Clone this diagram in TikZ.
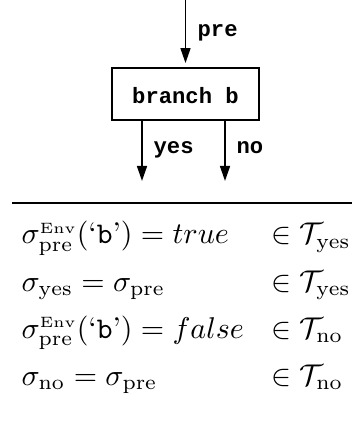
\documentclass[tikz,border=0pt]{standalone}
\usepackage{amsmath}
\usepackage{fontspec}
\newfontfamily\codefont{Liberation Mono}
\usetikzlibrary{arrows.meta}
\begin{document}
\begin{tikzpicture}[x=0.3333pt,y=-0.3333pt,
  code/.style={font=\codefont\bfseries\fontsize{7.4}{9}\selectfont, inner sep=0pt},
  flow/.style={line width=0.6pt,-{Triangle[length=5pt,width=3.3pt]}},
  stepbox/.style={draw,line width=0.6pt,inner sep=0pt,minimum width=49pt,
     text height=12pt,text depth=5.33pt},
  formula/.style={anchor=base west,inner sep=0pt}]
\useasboundingbox (0,0) rectangle (352,421);
% flow part
\node[stepbox,code] (box) at (185.5,67) [anchor=north] {branch b};
\coordinate (top) at (185.5,0);
\coordinate (yesend) at (142,181);
\coordinate (noend) at (225,181);
\draw[flow,shorten >=1.3pt] (top) -- (box.north);
\draw[flow] (box.south -| yesend) -- (yesend);
\draw[flow] (box.south -| noend) -- (noend);
\node[code,anchor=base west] (prelab) at (197,37) {pre};
\node[code,anchor=base west] (yeslab) at (153,154) {yes};
\node[code,anchor=base west] (nolab) at (236,154) {no};
% separator
\coordinate (ruleL) at (12,203);
\coordinate (ruleR) at (352,203);
\draw[line width=0.8pt] (ruleL) -- (ruleR);
% formulas
\node[formula] (f1) at (21,244) {$\sigma^{\scriptscriptstyle\mathrm{Env}}_{\mathrm{pre}}(\text{`\texttt{b}'}) = true$};
\node[formula] (t1) at (271,244) {$\in \mathcal{T}_{\mathrm{yes}}$};
\node[formula] (f2) at (21,291) {$\sigma_{\mathrm{yes}} = \sigma_{\mathrm{pre}}$};
\node[formula] (t2) at (271,291) {$\in \mathcal{T}_{\mathrm{yes}}$};
\node[formula] (f3) at (21,338) {$\sigma^{\scriptscriptstyle\mathrm{Env}}_{\mathrm{pre}}(\text{`\texttt{b}'}) = false$};
\node[formula] (t3) at (271,338) {$\in \mathcal{T}_{\mathrm{no}}$};
\node[formula] (f4) at (21,385) {$\sigma_{\mathrm{no}} = \sigma_{\mathrm{pre}}$};
\node[formula] (t4) at (271,385) {$\in \mathcal{T}_{\mathrm{no}}$};
\end{tikzpicture}
\end{document}
